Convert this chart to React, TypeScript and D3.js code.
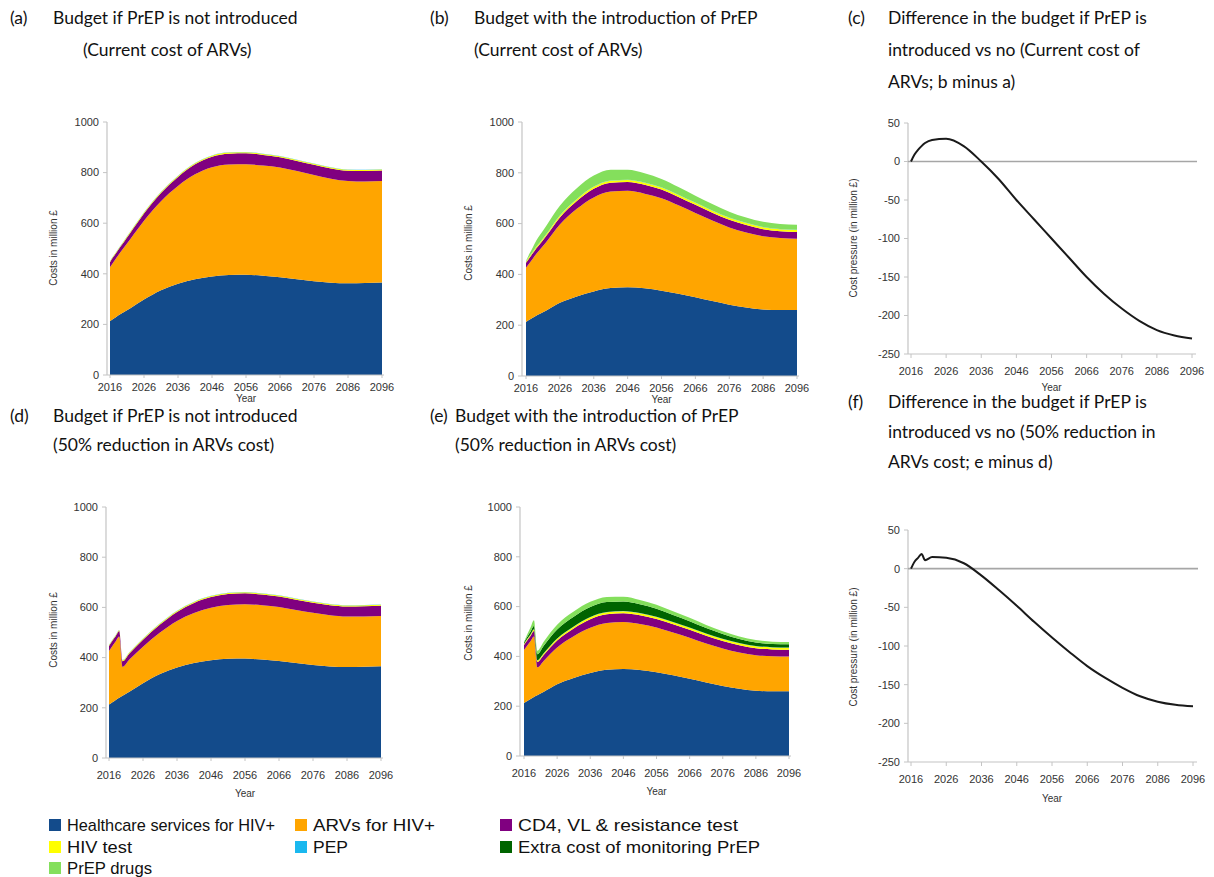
import React from 'react';
import * as d3 from 'd3';

// ---------- data ----------
const YEARS = [2016, 2017, 2018, 2019, 2020, 2022, 2026, 2031, 2036, 2041, 2046, 2051, 2056, 2061, 2066, 2071, 2076, 2081, 2086, 2091, 2096];
const X_TICKS = [2016, 2026, 2036, 2046, 2056, 2066, 2076, 2086, 2096];
const COST_TICKS = [0, 200, 400, 600, 800, 1000];
const DIFF_TICKS = [50, 0, -50, -100, -150, -200, -250];

// (a)/(d) no PrEP
const A_HEALTH = [213, 222, 231, 240, 248, 264, 298, 335, 361, 378, 389, 395, 396, 392, 386, 378, 371, 365, 363, 364, 366];
const A_ARV = [213, 224, 234, 244, 254, 274, 312, 352, 386, 415, 432, 437, 437, 436, 434, 428, 420, 411, 404, 401, 401];
const A_CD4 = [20, 21, 21, 22, 22, 24, 28, 32, 36, 40, 42, 43, 43, 42, 41, 40, 40, 40, 40, 41, 41];
const A_HIVTEST = [3, 3, 3, 3, 4, 4, 4, 4, 4, 4, 4, 4, 4, 4, 4, 4, 4, 4, 4, 4, 4];
const A_PEP = [1, 1, 1, 1, 1, 1, 1, 1, 1, 1, 1, 1, 1, 1, 1, 1, 1, 1, 1, 1, 1];
const D_ARV = [213, 224, 234, 244, 115, 128, 145, 165, 185, 200, 210, 215, 217, 217, 216, 212, 208, 204, 201, 200, 200];

// (b)/(e) with PrEP
const B_HEALTH = [213, 221, 229, 237, 244, 258, 288, 313, 333, 346, 349, 345, 336, 324, 310, 295, 281, 270, 262, 260, 260];
const B_ARV = [213, 223, 233, 243, 252, 270, 308, 345, 370, 380, 380, 373, 364, 348, 332, 317, 304, 295, 288, 283, 280];
const B_CD4 = [20, 21, 21, 22, 22, 24, 28, 31, 34, 35, 35, 35, 34, 33, 32, 31, 30, 29, 28, 27, 27];
const B_HIVTEST = [4, 5, 5, 6, 6, 6, 7, 7, 8, 8, 8, 8, 8, 8, 8, 8, 8, 8, 8, 8, 8];
const B_PEP = [1, 1, 1, 1, 1, 1, 1, 1, 1, 1, 1, 1, 1, 1, 1, 1, 1, 1, 1, 1, 1];
const B_PREP_DRUG = [2, 10, 17, 23, 28, 33, 38, 42, 43, 42, 39, 36, 33, 30, 27, 25, 23, 21, 20, 19, 19];
const E_ARV = [213, 223, 233, 243, 112, 125, 148, 168, 182, 188, 189, 185, 180, 172, 165, 157, 151, 146, 143, 141, 140];
const E_MONITOR = [5, 8, 11, 13, 24, 30, 36, 39, 40, 40, 38, 35, 32, 28, 25, 22, 19, 16, 14, 13, 13];
const E_PREP_DRUG = [2, 10, 17, 23, 14, 16, 19, 21, 21, 21, 20, 18, 16, 15, 14, 12, 11, 10, 10, 9, 9];
const ZERO = YEARS.map(() => 0);

// (c) and (f) differences
const C_DIFF = [0, 9, 15, 20, 24, 28, 29.5, 20, 0, -23, -50, -75, -100, -125, -150, -172, -191, -207, -219, -226, -230];
const F_DIFF = [0, 9, 14, 19, 11, 15, 14, 7, -9, -28, -48, -69, -89, -108, -126, -141, -154, -165, -172, -176, -178];

const COLORS = {
  health: '#134b8b',
  arv: '#ffa500',
  cd4: '#800080',
  hivtest: '#ffff00',
  pep: '#1ab8ef',
  monitor: '#006400',
  prep: '#84df5c',
};

const LEGEND = [
  { label: 'Healthcare services for HIV+', color: COLORS.health, col: 0, row: 0, len: 208 },
  { label: 'ARVs for HIV+', color: COLORS.arv, col: 1, row: 0, len: 122 },
  { label: 'CD4, VL & resistance test', color: COLORS.cd4, col: 2, row: 0, len: 220 },
  { label: 'HIV test', color: COLORS.hivtest, col: 0, row: 1, len: 65 },
  { label: 'PEP', color: COLORS.pep, col: 1, row: 1, len: 35 },
  { label: 'Extra cost of monitoring PrEP', color: COLORS.monitor, col: 2, row: 1, len: 242 },
  { label: 'PrEP drugs', color: COLORS.prep, col: 0, row: 2, len: 85 },
];

const TICK_FONT = 'Liberation Sans, Arial, sans-serif';
const TITLE_FONT = 'Lato, Carlito, sans-serif';

type Layout = { axisX: number; x0: number; x1: number; yTop: number; yBot: number; labelY: number; yearY: number; titleX: number; titleY: number };

function StackPanel({ layout, series }: { layout: Layout; series: { key: string; values: number[]; color: string }[] }) {
  const x = d3.scaleLinear().domain([2016, 2096]).range([layout.x0, layout.x1]);
  const y = d3.scaleLinear().domain([0, 1000]).range([layout.yBot, layout.yTop]);
  const rows = YEARS.map((yr, i) => {
    const r: any = { year: yr };
    series.forEach((s) => (r[s.key] = s.values[i]));
    return r;
  });
  const layers = d3.stack().keys(series.map((s) => s.key))(rows);
  const area = d3
    .area<any>()
    .x((d) => x(d.data.year))
    .y0((d) => y(d[0]))
    .y1((d) => y(d[1]))
    .curve(d3.curveMonotoneX);
  const axisCol = '#c4c4c4';
  return (
    <g>
      {layers.map((l, i) => (
        <path key={i} d={area(l as any) || ''} fill={series[i].color} stroke="none" />
      ))}
      <line x1={layout.axisX} x2={layout.axisX} y1={layout.yTop} y2={layout.yBot} stroke={axisCol} strokeWidth={1.2} />
      <line x1={layout.axisX} x2={layout.x1 + 2} y1={layout.yBot} y2={layout.yBot} stroke={axisCol} strokeWidth={1.2} />
      {COST_TICKS.map((t) => (
        <g key={t}>
          <line x1={layout.axisX - 4} x2={layout.axisX} y1={y(t)} y2={y(t)} stroke={axisCol} />
          <text x={layout.axisX - 8} y={y(t)} dy="0.35em" textAnchor="end" fontSize={11} fill="#333" fontFamily={TICK_FONT}>
            {t}
          </text>
        </g>
      ))}
      {X_TICKS.map((t) => (
        <g key={t}>
          <line x1={x(t)} x2={x(t)} y1={layout.yBot} y2={layout.yBot + 3} stroke={axisCol} />
          <text x={x(t)} y={layout.labelY} dy="0.35em" textAnchor="middle" fontSize={11} fill="#333" fontFamily={TICK_FONT}>
            {t}
          </text>
        </g>
      ))}
      <text x={(layout.x0 + layout.x1) / 2} y={layout.yearY} dy="0.35em" textAnchor="middle" fontSize={10} fill="#333" fontFamily={TICK_FONT}>
        Year
      </text>
      <text
        transform={`translate(${layout.titleX},${layout.titleY}) rotate(-90)`}
        dy="0.35em"
        textAnchor="middle"
        fontSize={10}
        fill="#333"
        fontFamily={TICK_FONT}
      >
        Costs in million £
      </text>
    </g>
  );
}

function DiffPanel({ layout, values }: { layout: Layout; values: number[] }) {
  const x = d3.scaleLinear().domain([2016, 2096]).range([layout.x0, layout.x1]);
  const y = d3.scaleLinear().domain([-250, 50]).range([layout.yBot, layout.yTop]);
  const line = d3
    .line<number>()
    .x((_, i) => x(YEARS[i]))
    .y((d) => y(d))
    .curve(d3.curveMonotoneX);
  const axisCol = '#c4c4c4';
  return (
    <g>
      <line x1={layout.axisX} x2={layout.axisX} y1={layout.yTop} y2={layout.yBot} stroke={axisCol} strokeWidth={1.2} />
      <line x1={layout.axisX} x2={layout.x1 + 4} y1={layout.yBot} y2={layout.yBot} stroke={axisCol} strokeWidth={1.2} />
      <line x1={layout.axisX} x2={layout.x1 + 5} y1={y(0)} y2={y(0)} stroke="#a6a6a6" strokeWidth={1.6} />
      {DIFF_TICKS.map((t) => (
        <g key={t}>
          <line x1={layout.axisX - 4} x2={layout.axisX} y1={y(t)} y2={y(t)} stroke={axisCol} />
          <text x={layout.axisX - 8} y={y(t)} dy="0.35em" textAnchor="end" fontSize={11} fill="#333" fontFamily={TICK_FONT}>
            {t}
          </text>
        </g>
      ))}
      {X_TICKS.map((t) => (
        <g key={t}>
          <line x1={x(t)} x2={x(t)} y1={layout.yBot} y2={layout.yBot + 4} stroke={axisCol} />
          <text x={x(t)} y={layout.labelY} dy="0.35em" textAnchor="middle" fontSize={11} fill="#333" fontFamily={TICK_FONT}>
            {t}
          </text>
        </g>
      ))}
      <text x={(layout.x0 + layout.x1) / 2} y={layout.yearY} dy="0.35em" textAnchor="middle" fontSize={10} fill="#333" fontFamily={TICK_FONT}>
        Year
      </text>
      <path d={line(values) || ''} fill="none" stroke="#1a1a1a" strokeWidth={2} />
      <text
        transform={`translate(${layout.titleX},${layout.titleY}) rotate(-90)`}
        dy="0.35em"
        textAnchor="middle"
        fontSize={10}
        fill="#333"
        fontFamily={TICK_FONT}
      >
        Cost pressure (in million £)
      </text>
    </g>
  );
}

function Title({ tag, tagX, x, y, lines, gap }: { tag: string; tagX: number; x: number[]; y: number; lines: string[]; gap: number }) {
  return (
    <g fontFamily={TITLE_FONT} fontSize={17.5} fill="#111">
      <text x={tagX} y={y}>{tag}</text>
      {lines.map((l, i) => (
        <text key={i} x={x[i]} y={y + i * gap}>
          {l}
        </text>
      ))}
    </g>
  );
}

export default function App() {
  const seriesA = [
    { key: 'health', values: A_HEALTH, color: COLORS.health },
    { key: 'arv', values: A_ARV, color: COLORS.arv },
    { key: 'cd4', values: A_CD4, color: COLORS.cd4 },
    { key: 'hivtest', values: A_HIVTEST, color: COLORS.hivtest },
    { key: 'pep', values: A_PEP, color: COLORS.pep },
    { key: 'monitor', values: ZERO, color: COLORS.monitor },
    { key: 'prep', values: ZERO, color: COLORS.prep },
  ];
  const seriesB = [
    { key: 'health', values: B_HEALTH, color: COLORS.health },
    { key: 'arv', values: B_ARV, color: COLORS.arv },
    { key: 'cd4', values: B_CD4, color: COLORS.cd4 },
    { key: 'hivtest', values: B_HIVTEST, color: COLORS.hivtest },
    { key: 'pep', values: B_PEP, color: COLORS.pep },
    { key: 'monitor', values: ZERO, color: COLORS.monitor },
    { key: 'prep', values: B_PREP_DRUG, color: COLORS.prep },
  ];
  const seriesD = seriesA.map((s) => (s.key === 'arv' ? { ...s, values: D_ARV } : s));
  const seriesE = seriesB.map((s) =>
    s.key === 'arv' ? { ...s, values: E_ARV } : s.key === 'monitor' ? { ...s, values: E_MONITOR } : s.key === 'prep' ? { ...s, values: E_PREP_DRUG } : s
  );

  const legendX = [49, 295, 500];
  const legendY = [825, 847, 868];

  return (
    <svg width={1214} height={877} style={{ position: 'absolute', left: 0, top: 0, background: '#fff' }}>
      <rect width={1214} height={877} fill="#fff" />
      <Title tag="(a)" tagX={10} x={[53, 83]} y={24} gap={32} lines={['Budget if PrEP is not introduced', '(Current cost of ARVs)']} />
      <Title tag="(b)" tagX={430} x={[474, 474]} y={24} gap={32} lines={['Budget with the introduction of PrEP', '(Current cost of ARVs)']} />
      <Title tag="(c)" tagX={848} x={[888, 888, 888]} y={24} gap={32} lines={['Difference in the budget if PrEP is', 'introduced vs no (Current cost of', 'ARVs; b minus a)']} />
      <Title tag="(d)" tagX={10} x={[53, 53]} y={422} gap={29} lines={['Budget if PrEP is not introduced', '(50% reduction in ARVs cost)']} />
      <Title tag="(e)" tagX={430} x={[455, 455]} y={422} gap={29} lines={['Budget with the introduction of PrEP', '(50% reduction in ARVs cost)']} />
      <Title tag="(f)" tagX={848} x={[888, 888, 888]} y={408} gap={30} lines={['Difference in the budget if PrEP is', 'introduced vs no (50% reduction in', 'ARVs cost; e minus d)']} />

      <StackPanel layout={{ axisX: 107, x0: 110, x1: 382, yTop: 122, yBot: 375, labelY: 387, yearY: 398, titleX: 53, titleY: 248 }} series={seriesA} />
      <StackPanel layout={{ axisX: 522, x0: 526, x1: 797, yTop: 122, yBot: 376, labelY: 388, yearY: 399, titleX: 468, titleY: 243 }} series={seriesB} />
      <StackPanel layout={{ axisX: 106, x0: 109, x1: 381, yTop: 507, yBot: 758, labelY: 775, yearY: 793, titleX: 53, titleY: 630 }} series={seriesD} />
      <StackPanel layout={{ axisX: 520, x0: 524, x1: 789, yTop: 507, yBot: 756, labelY: 773, yearY: 791, titleX: 468, titleY: 623 }} series={seriesE} />

      <DiffPanel layout={{ axisX: 908, x0: 911, x1: 1192, yTop: 123, yBot: 354, labelY: 371, yearY: 387, titleX: 853, titleY: 238 }} values={C_DIFF} />
      <DiffPanel layout={{ axisX: 908, x0: 911, x1: 1193, yTop: 530, yBot: 762, labelY: 779, yearY: 798, titleX: 853, titleY: 647 }} values={F_DIFF} />

      {LEGEND.map((l) => (
        <g key={l.label}>
          <rect x={legendX[l.col]} y={legendY[l.row] - 6} width={12} height={12} fill={l.color} />
          <text
            x={legendX[l.col] + 18}
            y={legendY[l.row]}
            dy="0.36em"
            fontSize={17}
            fill="#111"
            fontFamily={TICK_FONT}
            textLength={l.len}
            lengthAdjust="spacingAndGlyphs"
          >
            {l.label}
          </text>
        </g>
      ))}
    </svg>
  );
}
